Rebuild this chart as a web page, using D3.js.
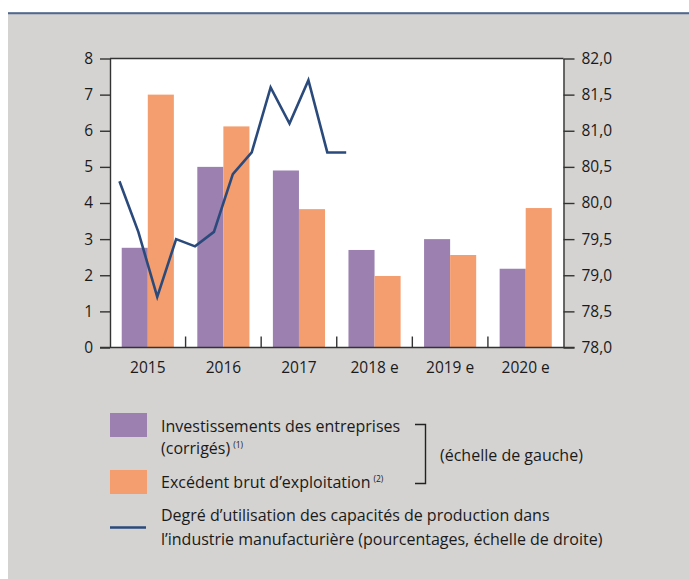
<!DOCTYPE html>
<html lang="fr">
<head>
    <meta charset="UTF-8">
    <title></title>
    <script src="https://cdn.jsdelivr.net/npm/d3@7"></script>
    <style>
        body { margin: 0; background: #fff; }
        text { font-family: "Open Sans", sans-serif; fill: #1a1a1a; }
    </style>
</head>
<body>
<div id="chart"></div>
<script>
    // data
    var years = ["2015", "2016", "2017", "2018 e", "2019 e", "2020 e"];
    var investissements = [2.76, 5.0, 4.9, 2.7, 3.0, 2.18];
    var excedent = [7.0, 6.12, 3.83, 1.98, 2.56, 3.86];

    var quarters = [];
    ["2015", "2016", "2017", "2018", "2019", "2020"].forEach(function (y) {
        ["T1", "T2", "T3", "T4"].forEach(function (q) { quarters.push(y + q); });
    });
    var capacite = [80.3, 79.6, 78.7, 79.5, 79.4, 79.6, 80.4, 80.7, 81.6, 81.1, 81.7, 80.7, 80.7];

    var leftTicks = [0, 1, 2, 3, 4, 5, 6, 7, 8];
    var rightTicks = [78, 78.5, 79, 79.5, 80, 80.5, 81, 81.5, 82];

    var W = 689, H = 579;
    var L = 110, R = 563.5, T = 58.5, B = 347.5;

    var svg = d3.select("#chart").append("svg")
        .attr("width", W)
        .attr("height", H);

    svg.append("rect").attr("x", 8).attr("y", 12).attr("width", W - 8).attr("height", H - 12)
        .style("fill", "#d4d3d1");
    svg.append("line").attr("x1", 8).attr("x2", W).attr("y1", 13.3).attr("y2", 13.3)
        .attr("stroke", "#4f6892").attr("stroke-width", 2);

    svg.append("rect").attr("x", L).attr("y", T).attr("width", R - L).attr("height", B - T)
        .style("fill", "#fff");

    var x = d3.scaleBand().domain(years).range([L, R]).paddingInner(0).paddingOuter(0);
    var xs = d3.scaleBand().domain(["a", "b"]).range([0, x.bandwidth()]).paddingInner(0).paddingOuter(0.45);
    var xq = d3.scaleBand().domain(quarters).range([L, R]);
    var y = d3.scaleLinear().domain([0, 8]).range([B, T]);
    var y2 = d3.scaleLinear().domain([78, 82]).range([B, T]);

    var fr = d3.formatLocale({decimal: ",", thousands: " ", grouping: [3], currency: ["", "€"]});

    // bars
    var g = svg.append("g");
    years.forEach(function (yr, i) {
        g.append("rect")
            .attr("x", x(yr) + xs("a")).attr("width", xs.bandwidth())
            .attr("y", y(investissements[i])).attr("height", y(0) - y(investissements[i]))
            .style("fill", "#9b80b0");
        g.append("rect")
            .attr("x", x(yr) + xs("b")).attr("width", xs.bandwidth())
            .attr("y", y(excedent[i])).attr("height", y(0) - y(excedent[i]))
            .style("fill", "#f49d6e");
    });

    // line
    var line = d3.line()
        .x(function (d, i) { return xq(quarters[i]) + xq.bandwidth() / 2; })
        .y(function (d) { return y2(d); });
    svg.append("path").datum(capacite)
        .attr("d", line)
        .attr("fill", "none")
        .attr("stroke", "#2b4a7c")
        .attr("stroke-width", 2.6)
        .attr("stroke-linejoin", "miter");

    // axes
    var axisColor = "#333";
    var left = svg.append("g").attr("transform", "translate(" + L + ",0)")
        .call(d3.axisLeft(y).tickValues(leftTicks).tickSize(10).tickSizeOuter(0).tickPadding(7));
    var right = svg.append("g").attr("transform", "translate(" + R + ",0)")
        .call(d3.axisRight(y2).tickValues(rightTicks).tickFormat(fr.format(".1f")).tickSize(11).tickSizeOuter(0).tickPadding(7));
    var bottom = svg.append("g").attr("transform", "translate(0," + B + ")")
        .call(d3.axisBottom(x).tickSize(0).tickPadding(14));
    bottom.select(".domain").remove();

    [left, right, bottom].forEach(function (a) {
        a.selectAll("path, line").attr("stroke", axisColor).attr("stroke-width", 1.4);
        a.selectAll("text").style("font-size", "15.5px").style("font-family", "'Open Sans', sans-serif").attr("fill", "#1a1a1a");
    });

    svg.append("line").attr("x1", L).attr("x2", R).attr("y1", T).attr("y2", T)
        .attr("stroke", axisColor).attr("stroke-width", 1.4);
    svg.append("line").attr("x1", L - 10).attr("x2", R + 11).attr("y1", B).attr("y2", B)
        .attr("stroke", axisColor).attr("stroke-width", 1.6);

    // category separators
    years.slice(1).forEach(function (yr) {
        svg.append("line").attr("x1", x(yr)).attr("x2", x(yr)).attr("y1", B).attr("y2", B - 11)
            .attr("stroke", axisColor).attr("stroke-width", 1.4);
    });

    // legend
    var lg = svg.append("g").style("font-size", "16px");
    lg.append("rect").attr("x", 110).attr("y", 413).attr("width", 37).attr("height", 24).style("fill", "#9b80b0");
    lg.append("rect").attr("x", 110).attr("y", 470).attr("width", 37).attr("height", 24).style("fill", "#f49d6e");
    lg.append("line").attr("x1", 110).attr("x2", 146).attr("y1", 527.5).attr("y2", 527.5)
        .attr("stroke", "#2b4a7c").attr("stroke-width", 2.4);

    lg.append("text").attr("x", 161).attr("y", 431.5).text("Investissements des entreprises");
    var t1 = lg.append("text").attr("x", 161).attr("y", 453.5);
    t1.append("tspan").text("(corrigés)");
    t1.append("tspan").attr("dx", 3).attr("dy", -6).style("font-size", "8.5px").text("(1)");
    var t2 = lg.append("text").attr("x", 161).attr("y", 487.5);
    t2.append("tspan").text("Excédent brut d\u2019exploitation");
    t2.append("tspan").attr("dx", 3).attr("dy", -6).style("font-size", "8.5px").text("(2)");
    lg.append("text").attr("x", 161).attr("y", 521).text("Degré d\u2019utilisation des capacités de production dans");
    lg.append("text").attr("x", 161).attr("y", 544.5).text("l\u2019industrie manufacturière (pourcentages, échelle de droite)");

    lg.append("path").attr("d", "M415,424.5H425.5V483.5H415")
        .attr("fill", "none").attr("stroke", "#222").attr("stroke-width", 1.4);
    lg.append("text").attr("x", 440).attr("y", 461).text("(échelle de gauche)");
</script>
</body>
</html>
